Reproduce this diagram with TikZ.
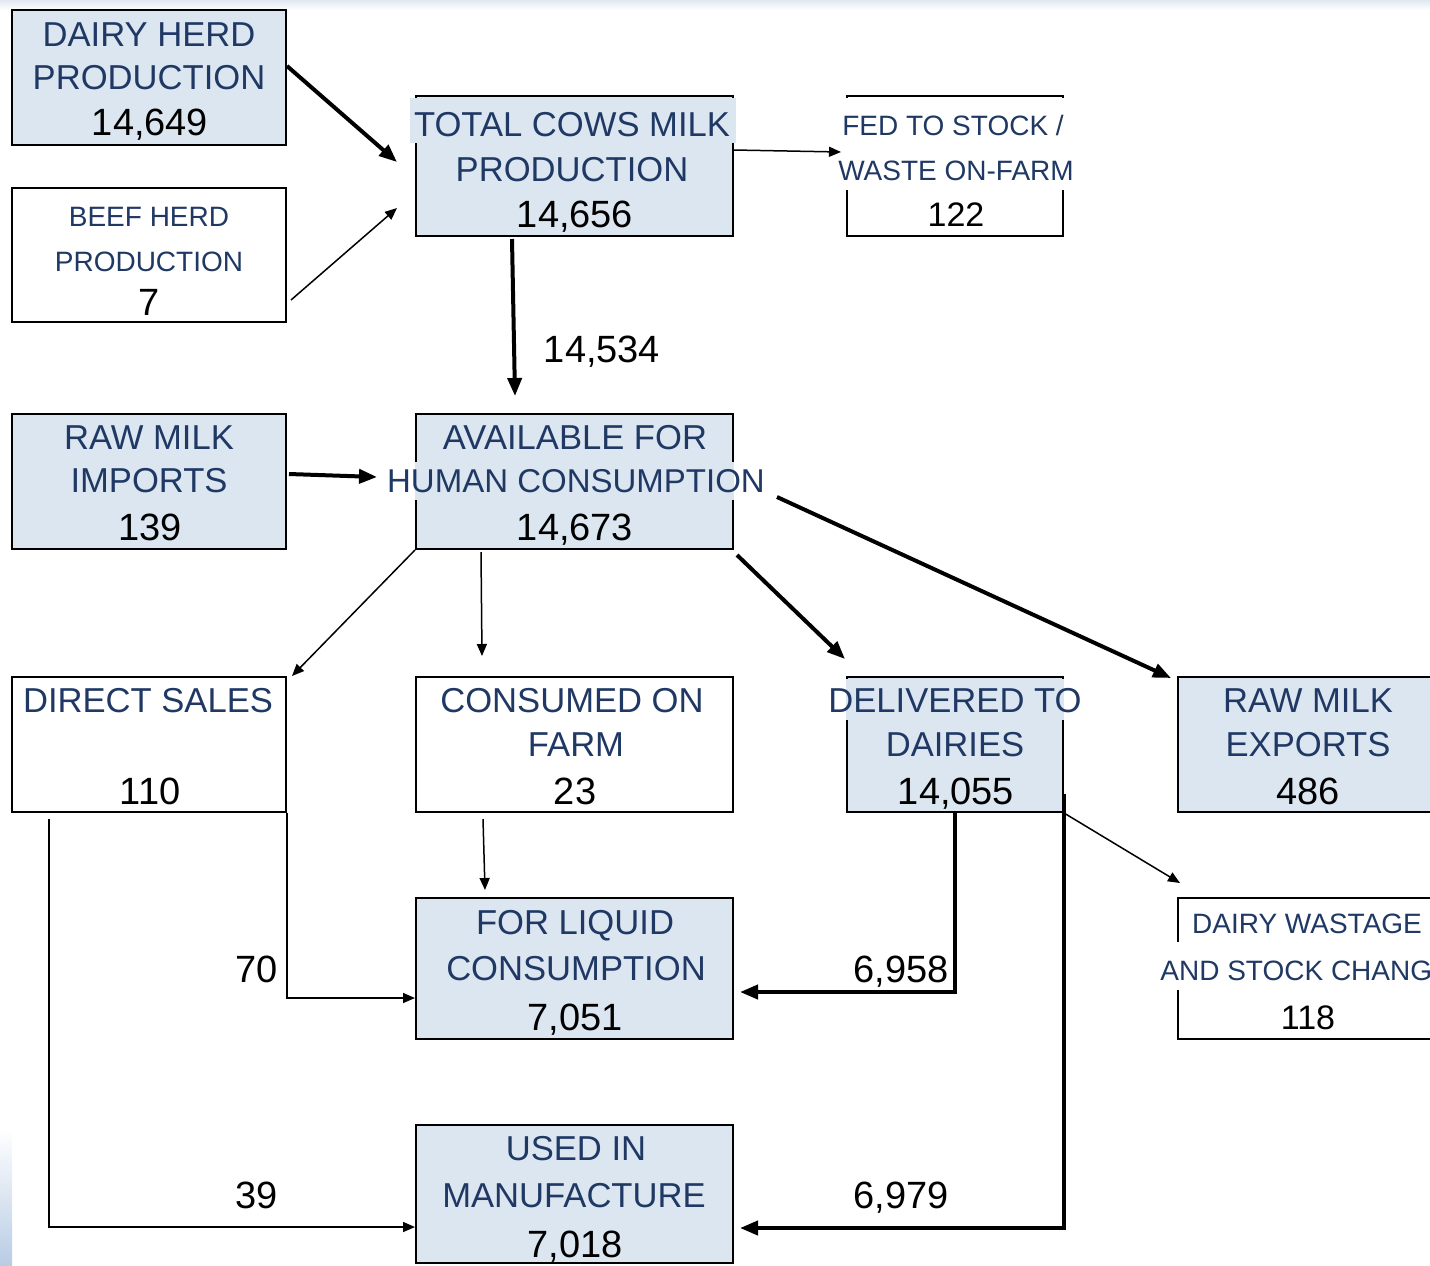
\documentclass[tikz,border=0pt]{standalone}
\usepackage{fontspec}
\setmainfont{Liberation Sans}
\usetikzlibrary{arrows.meta,fit,calc}
\definecolor{boxblue}{RGB}{220,230,241}
\definecolor{txtblue}{RGB}{31,56,100}
\definecolor{edgeblue}{RGB}{184,204,228}
\definecolor{topgray}{RGB}{226,232,241}
\begin{document}
\begin{tikzpicture}[x=0.5pt,y=-0.5pt,
  box/.style={draw=black, line width=1pt, inner sep=0pt},
  filledbox/.style={box, fill=boxblue},
  plainbox/.style={box, fill=white},
  lab/.style={anchor=base, inner sep=0pt, text=txtblue, font=\fontsize{17.3}{20}\selectfont},
  labs/.style={lab, font=\fontsize{14}{16}\selectfont},
  num/.style={anchor=base, inner sep=0pt, text=black, font=\fontsize{19}{22}\selectfont},
  nums/.style={num, font=\fontsize{17}{20}\selectfont},
  bigarrow/.style={-{Triangle[length=9pt,width=7pt]}, line width=2pt},
  smallarrow/.style={-{Triangle[length=6pt,width=5pt]}, line width=0.75pt},
  gapblue/.style={fill=boxblue},
  gapwhite/.style={fill=white}]
\useasboundingbox (0,0) rectangle (1430,1265);
% faint background edges
\shade[top color=topgray, bottom color=white] (0,0) rectangle (1430,10);
\shade[top color=white, bottom color=edgeblue] (0,1128) rectangle (12,1265);

% boxes
\node[filledbox, fit={(12,10)(286,145)}] (dairy) {};
\node[plainbox, fit={(12,188)(286,322)}] (beef) {};
\node[filledbox, fit={(416,96)(733,236)}] (total) {};
\node[plainbox, fit={(847,96)(1063,236)}] (fed) {};
\node[filledbox, fit={(12,414)(286,549)}] (imports) {};
\node[filledbox, fit={(416,414)(733,549)}] (avail) {};
\node[plainbox, fit={(12,677)(286,812)}] (direct) {};
\node[plainbox, fit={(416,677)(733,812)}] (consumed) {};
\node[filledbox, fit={(847,677)(1063,812)}] (delivered) {};
\node[filledbox, fit={(1178,677)(1440,812)}] (exports) {};
\node[filledbox, fit={(416,898)(733,1039)}] (liquid) {};
\node[plainbox, fit={(1178,898)(1440,1039)}] (wastage) {};
\node[filledbox, fit={(416,1125)(733,1263)}] (used) {};

% border gaps behind overflowing text lines
\path[gapblue] (410,98) rectangle (419,143);
\path[gapblue] (730,98) rectangle (736,143);
\path[gapwhite] (844,98) rectangle (850,190);
\path[gapwhite] (1060,98) rectangle (1066,190);
\path[gapblue] (415,462) rectangle (418,500);
\path[gapblue] (731,462) rectangle (734,500);
\path[gapblue] (846,679) rectangle (849,720);
\path[gapblue] (1061,679) rectangle (1064,720);
\path[gapwhite] (1176,942) rectangle (1180,990);

% texts
\node[lab] (dairy1) at (149,46) {DAIRY HERD};
\node[lab] (dairy2) at (149,89) {PRODUCTION};
\node[num] (dairy3) at (150,135) {14,649};

\node[labs] (beef1) at (149,226) {BEEF HERD};
\node[labs] (beef2) at (149,271) {PRODUCTION};
\node[num] (beef3) at (149,315) {7};

\node[lab] (total1) at (572,136) {TOTAL COWS MILK};
\node[lab] (total2) at (572,181) {PRODUCTION};
\node[num] (total3) at (575,227) {14,656};

\node[labs] (fed1) at (953,135) {FED TO STOCK /};
\node[labs] (fed2) at (956,180) {WASTE ON-FARM};
\node[nums] (fed3) at (956,226) {122};

\node[lab] (imports1) at (149,449) {RAW MILK};
\node[lab] (imports2) at (149,492) {IMPORTS};
\node[num] (imports3) at (150,540) {139};

\node[lab] (avail1) at (575,449) {AVAILABLE FOR};
\node[lab, font=\fontsize{16.5}{20}\selectfont] (avail2) at (576,492) {HUMAN CONSUMPTION};
\node[num] (avail3) at (575,540) {14,673};

\node[lab] (direct1) at (148,712) {DIRECT SALES};
\node[num] (direct3) at (150,804) {110};

\node[lab] (consumed1) at (572,712) {CONSUMED ON};
\node[lab] (consumed2) at (576,756) {FARM};
\node[num] (consumed3) at (575,804) {23};

\node[lab] (delivered1) at (955,712) {DELIVERED TO};
\node[lab] (delivered2) at (955,756) {DAIRIES};
\node[num] (delivered3) at (956,804) {14,055};

\node[lab] (exports1) at (1308,712) {RAW MILK};
\node[lab] (exports2) at (1308,756) {EXPORTS};
\node[num] (exports3) at (1308,804) {486};

\node[lab] (liquid1) at (575,934) {FOR LIQUID};
\node[lab] (liquid2) at (576,980) {CONSUMPTION};
\node[num] (liquid3) at (575,1030) {7,051};

\node[labs] (wastage1) at (1307,933) {DAIRY WASTAGE};
\node[labs, anchor=base west] (wastage2) at (1160,980) {AND STOCK CHANG};
\node[nums] (wastage3) at (1308,1029) {118};

\node[lab] (used1) at (576,1160) {USED IN};
\node[lab] (used2) at (574,1207) {MANUFACTURE};
\node[num] (used3) at (575,1257) {7,018};

% flow labels
\node[num] (f14534) at (602,362) {14,534};
\node[num] (f70) at (257,982) {70};
\node[num] (f6958) at (901,982) {6,958};
\node[num] (f39) at (257,1208) {39};
\node[num] (f6979) at (901,1208) {6,979};

% connectors
\draw[bigarrow] ($(dairy.east)+(0,-11.5)$) -- ($(total.west)+(-18,-4)$);
\draw[smallarrow] ($(beef.east)+(4,45)$) -- ($(total.west)+(-18,42)$);
\draw[smallarrow] ($(total.east)+(0,-16)$) -- ($(fed.west)+(-5,-14)$);
\draw[bigarrow] ($(total.south)+(-62.5,2)$) -- ($(avail.north)+(-59.5,-17)$);
\draw[bigarrow] ($(imports.east)+(2,-7.5)$) -- ($(avail.west)+(-38,-4.5)$);
\draw[smallarrow] (avail.south west) -- ($(direct.north east)+(5,0)$);
\draw[smallarrow] ($(avail.south west)+(66,2)$) -- ($(consumed.north)+(-92.5,-20)$);
\draw[bigarrow] ($(avail.south east)+(3,5)$) -- ($(delivered.north west)+(-1,-17)$);
\draw[bigarrow] ($(avail.east)+(43,15.5)$) -- ($(exports.north west)+(-6,2)$);
\draw[smallarrow] ($(consumed.south)+(-91.5,6)$) -- ($(liquid.north)+(-89.5,-7)$);
\draw[smallarrow] (direct.south east) |- ($(liquid.west)+(0,29.5)$);
\draw[smallarrow] ($(direct.south west)+(38,6)$) |- ($(used.west)+(0,33)$);
\draw[bigarrow] (delivered.south) |- ($(liquid.east)+(6,23.5)$);
\draw[bigarrow] ($(delivered.south east)+(0,-19)$) |- ($(used.east)+(6,34)$);
\draw[smallarrow] (delivered.south east) -- ($(wastage.north west)+(3,-14)$);
\end{tikzpicture}
\end{document}
